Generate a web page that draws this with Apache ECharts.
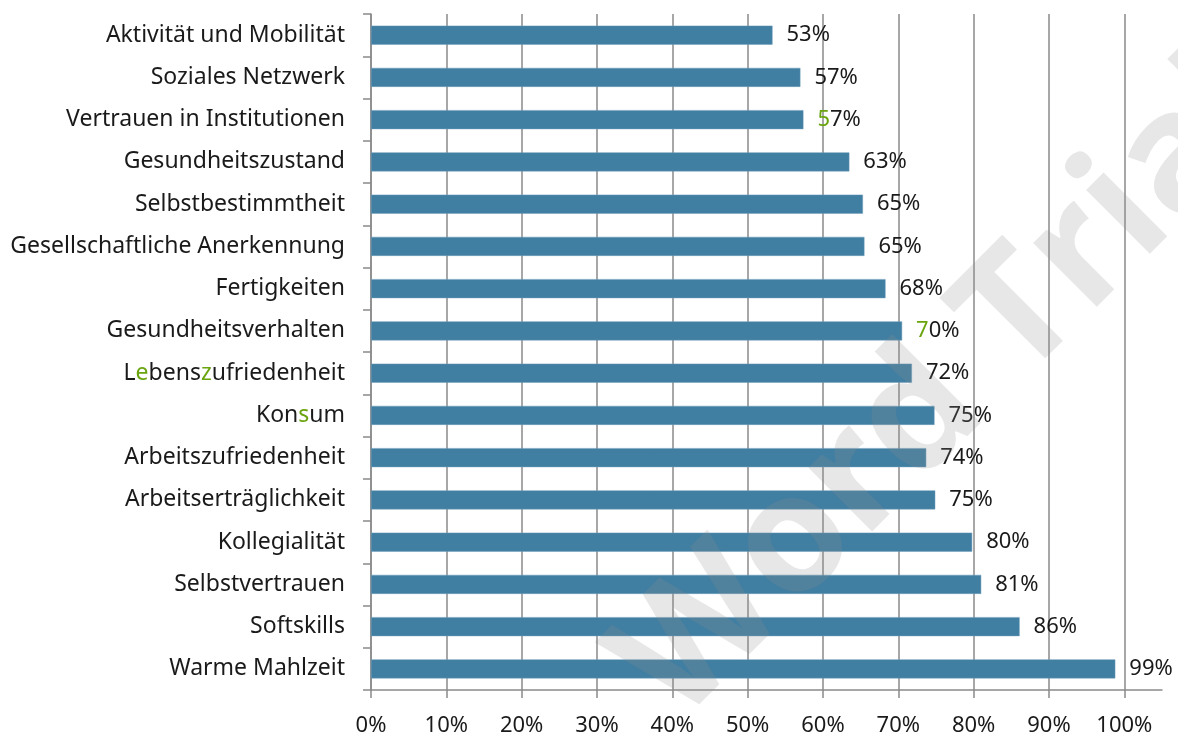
<!DOCTYPE html>
<html>
<head>
<meta charset="utf-8">
<script src="https://cdn.jsdelivr.net/npm/echarts@6/dist/echarts.min.js"></script>
<style>
    html, body { margin: 0; padding: 0; background: #fff; }
    #chart { width: 1178px; height: 737px; }
</style>
</head>
<body>
<div id="chart"></div>
<script>
const categories = [
    'Aktivität und Mobilität',
    'Soziales Netzwerk',
    'Vertrauen in Institutionen',
    'Gesundheitszustand',
    'Selbstbestimmtheit',
    'Gesellschaftliche Anerkennung',
    'Fertigkeiten',
    'Gesundheitsverhalten',
    'Lebenszufriedenheit',
    'Konsum',
    'Arbeitszufriedenheit',
    'Arbeitserträglichkeit',
    'Kollegialität',
    'Selbstvertrauen',
    'Softskills',
    'Warme Mahlzeit'
];
// bar lengths in percent (labels show rounded values)
const values = [53.3, 57.0, 57.4, 63.5, 65.3, 65.5, 68.3, 70.5, 71.8, 74.8, 73.7, 74.9, 79.8, 81.0, 86.1, 98.8];
const valueLabels = ['53%', '57%', '57%', '63%', '65%', '65%', '68%', '70%', '72%', '75%', '74%', '75%', '80%', '81%', '86%', '99%'];
const tickValues = [0, 10, 20, 30, 40, 50, 60, 70, 80, 90, 100];

// letters tinted green in the source image
const catMarkup = {
    'Lebenszufriedenheit': 'L{g|e}bens{g|z}ufriedenheit',
    'Konsum': 'Kon{g|s}um'
};
const labelMarkup = { 2: '{g|5}7%', 7: '{g|7}0%' };

const font = '"Noto Sans", sans-serif';
const textColor = '#1a1a1a';
const green = '#6aa40f';
const gridGray = '#8a8a8a';

const chart = echarts.init(document.getElementById('chart'));

chart.setOption({
    animation: false,
    graphic: [{
        type: 'text',
        z: 100,
        silent: true,
        x: 947,
        y: 390,
        rotation: Math.PI / 4,
        style: {
            text: 'Word Trial',
            fill: 'rgba(140,140,140,0.21)',
            font: 'bold 165px "Open Sans", sans-serif',
            textAlign: 'center',
            textVerticalAlign: 'middle'
        }
    }],
    grid: {
        left: 371,
        right: 16,
        top: 14,
        bottom: 46,
        containLabel: false
    },
    xAxis: {
        type: 'value',
        min: 0,
        max: 105,
        axisLine: { show: true, lineStyle: { color: gridGray, width: 1.5 } },
        axisTick: {
            show: true,
            length: 8,
            customValues: tickValues,
            lineStyle: { color: gridGray, width: 1.5 }
        },
        axisLabel: {
            customValues: tickValues,
            margin: 25,
            fontSize: 22,
            fontFamily: font,
            color: textColor,
            formatter: v => v + '%'
        },
        splitLine: { show: true, lineStyle: { color: gridGray, width: 1.5 } }
    },
    yAxis: {
        type: 'category',
        inverse: true,
        data: categories,
        axisLine: { show: true, lineStyle: { color: gridGray, width: 1.5 } },
        axisTick: { show: true, length: 8, lineStyle: { color: gridGray, width: 1.5 } },
        axisLabel: {
            margin: 26,
            fontSize: 23,
            fontFamily: font,
            color: textColor,
            formatter: v => catMarkup[v] || v,
            rich: {
                g: { color: green, fontSize: 23, fontFamily: font }
            }
        }
    },
    series: [{
        type: 'bar',
        data: values,
        barWidth: 19,
        itemStyle: {
            color: '#407ea2',
            borderColor: '#6d9dbb',
            borderWidth: 0.5
        },
        label: {
            show: true,
            position: 'right',
            distance: 14,
            fontSize: 22,
            fontFamily: font,
            color: textColor,
            formatter: p => labelMarkup[p.dataIndex] || valueLabels[p.dataIndex],
            rich: {
                g: { color: green, fontSize: 22, fontFamily: font }
            }
        }
    }]
});
</script>
</body>
</html>
